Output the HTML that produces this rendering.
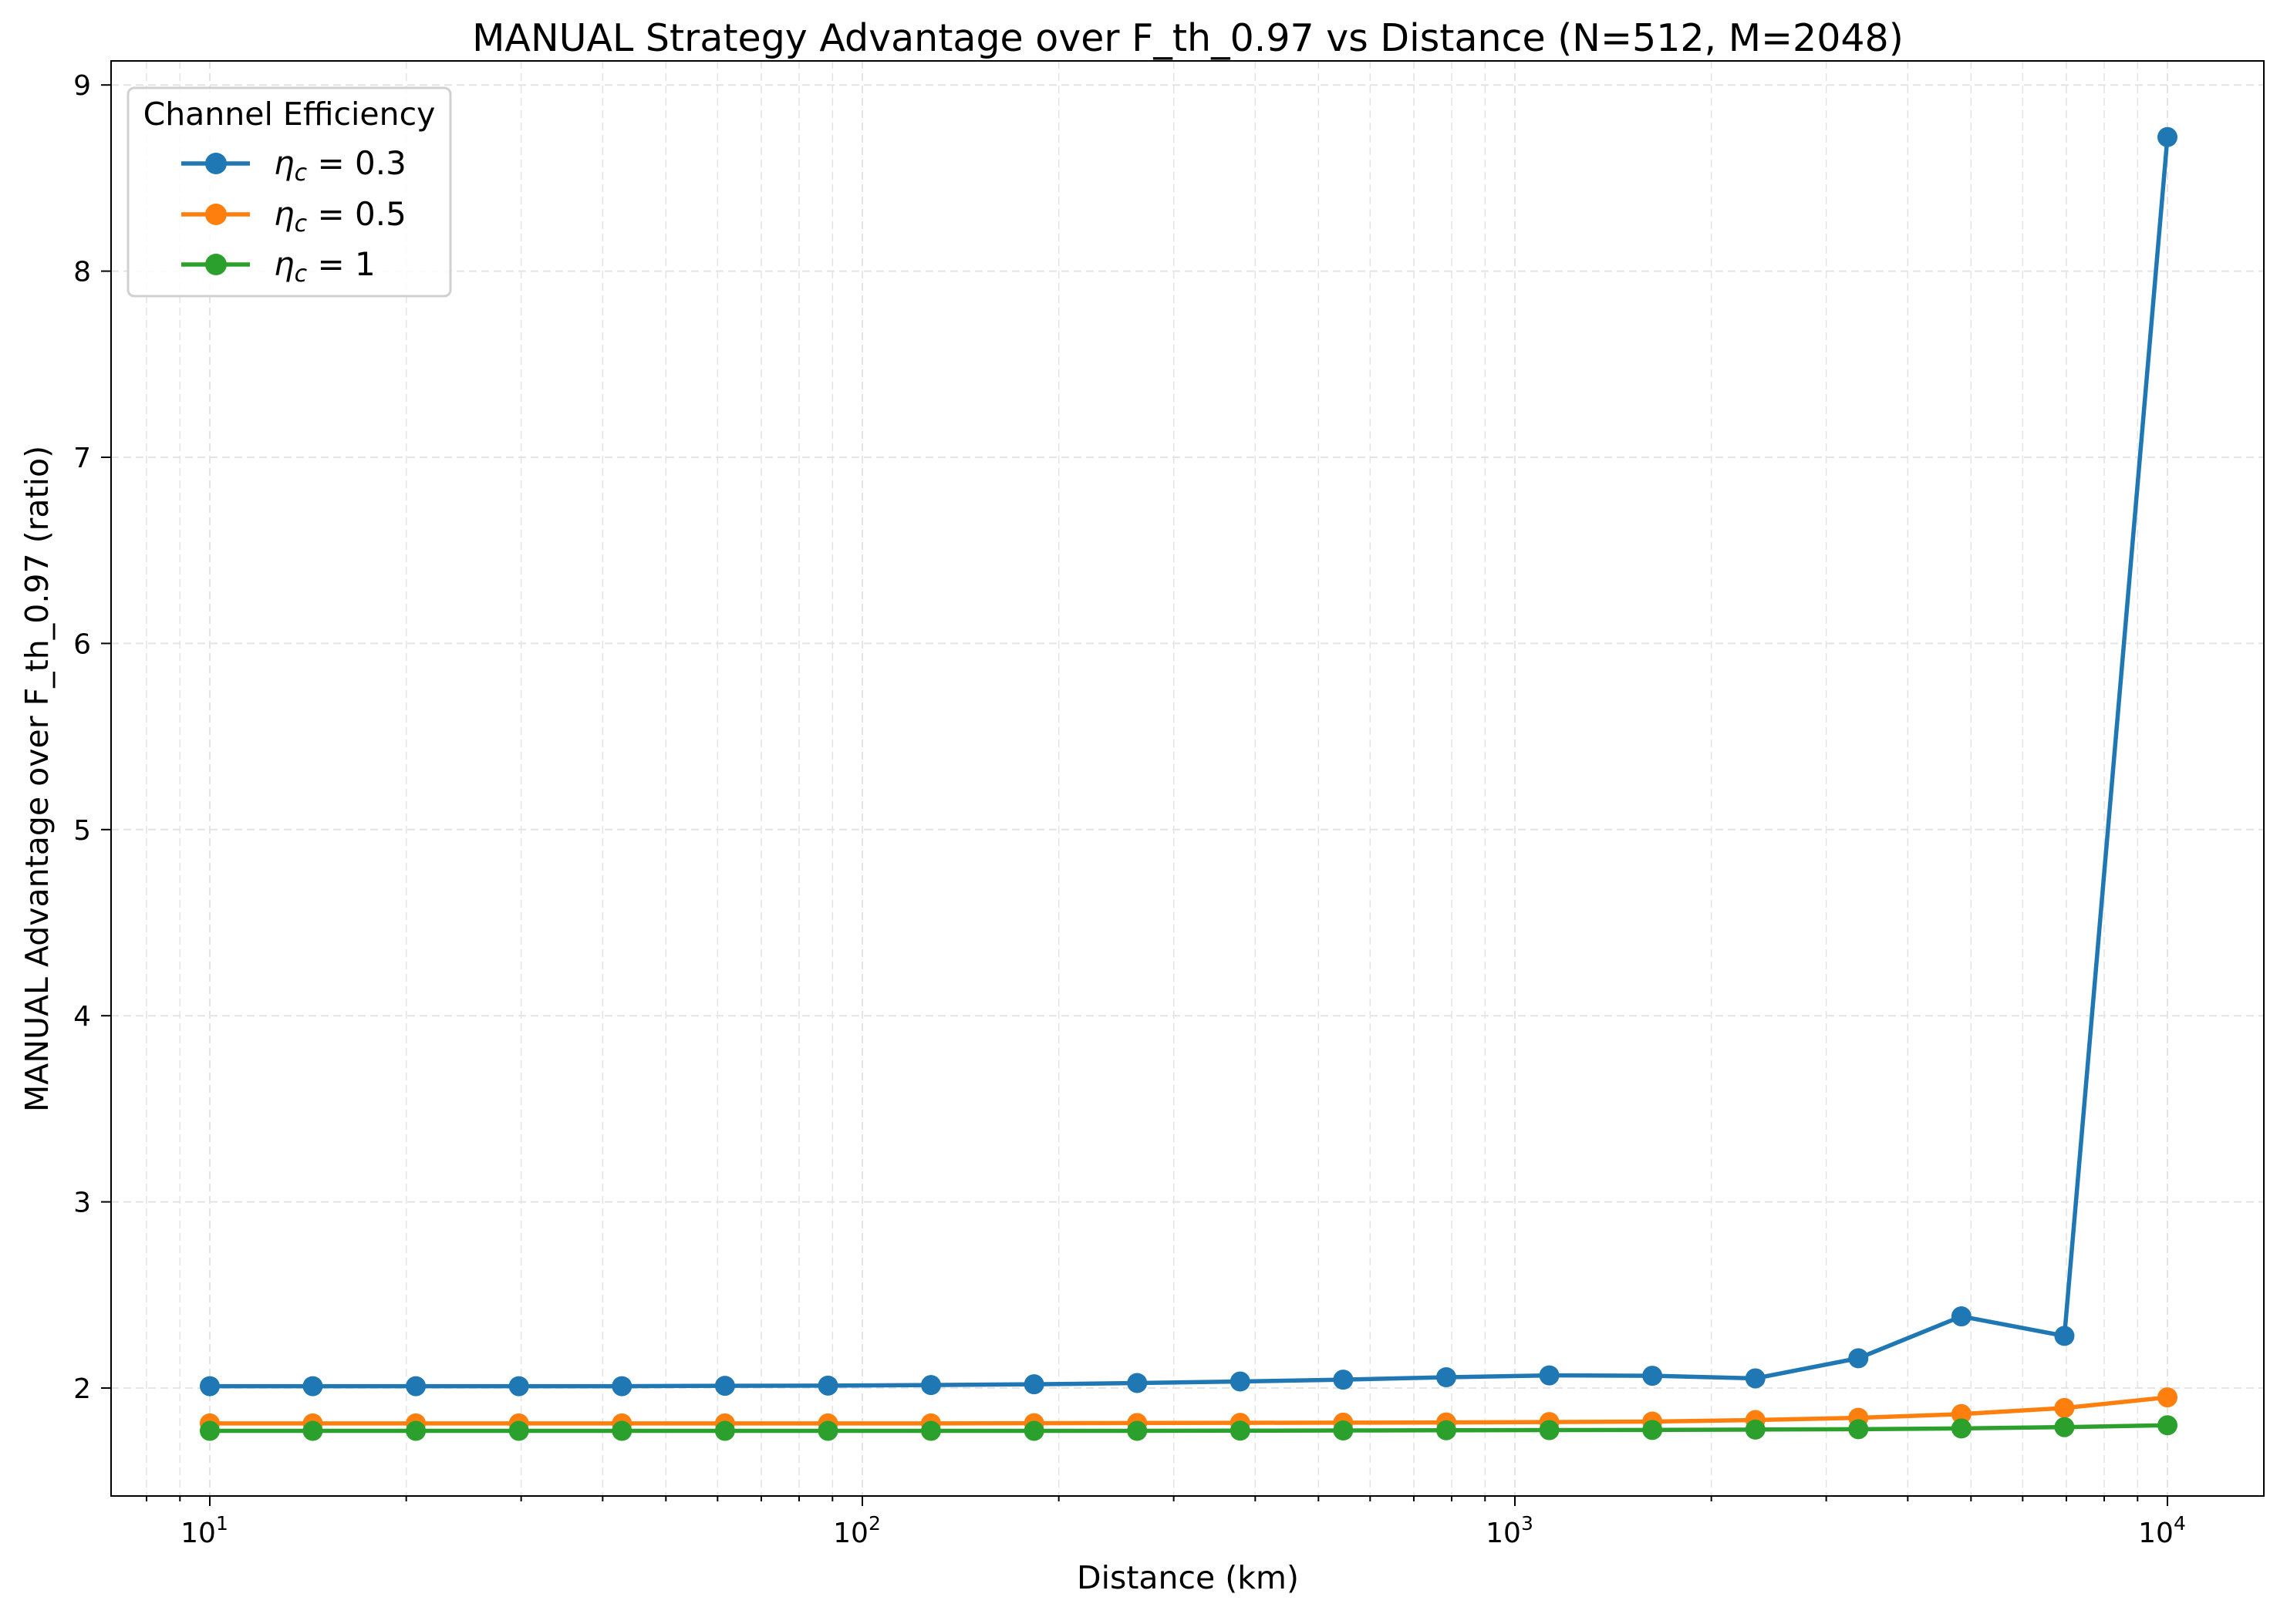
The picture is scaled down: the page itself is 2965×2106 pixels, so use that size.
<!DOCTYPE html>
<html><head><meta charset="utf-8"><style>
body{margin:0;background:#fff}
svg text{font-family:"DejaVu Sans","Liberation Sans",sans-serif;fill:#000}
</style></head><body>
<svg id="chart" width="2965" height="2101" viewBox="0 0 2965 2101" xmlns="http://www.w3.org/2000/svg">
<rect width="2965" height="2101" fill="#fff"/>
<g id="grid"></g>
<g id="series"></g>
<rect x="144" y="79" width="2791" height="1861" fill="none" stroke="#000" stroke-width="2"/>
<g id="axes"></g>
<text x="1540" y="66" font-size="49" text-anchor="middle">MANUAL Strategy Advantage over F_th_0.97 vs Distance (N=512, M=2048)</text>
<text x="1540" y="2060" font-size="41" text-anchor="middle">Distance (km)</text>
<text transform="translate(62,1010) rotate(-90)" font-size="41" text-anchor="middle">MANUAL Advantage over F_th_0.97 (ratio)</text>
<g>
<rect x="166" y="114" width="418" height="270" rx="8" fill="#fff" fill-opacity="0.85" stroke="#d0d0d0" stroke-width="3"/>
<text x="375" y="162" font-size="41" text-anchor="middle">Channel Efficiency</text>
<g><line x1="235" y1="212" x2="324" y2="212" stroke="#1f77b4" stroke-width="5.5"/><circle cx="280" cy="212" r="14" fill="#1f77b4"/><text x="355" y="226" font-size="42"><tspan font-style="italic">η</tspan><tspan font-style="italic" font-size="30" dy="8">c</tspan><tspan dy="-8"> = 0.3</tspan></text></g>
<g><line x1="235" y1="278" x2="324" y2="278" stroke="#ff7f0e" stroke-width="5.5"/><circle cx="280" cy="278" r="14" fill="#ff7f0e"/><text x="355" y="292" font-size="42"><tspan font-style="italic">η</tspan><tspan font-style="italic" font-size="30" dy="8">c</tspan><tspan dy="-8"> = 0.5</tspan></text></g>
<g><line x1="235" y1="343" x2="324" y2="343" stroke="#2ca02c" stroke-width="5.5"/><circle cx="280" cy="343" r="14" fill="#2ca02c"/><text x="355" y="357" font-size="42"><tspan font-style="italic">η</tspan><tspan font-style="italic" font-size="30" dy="8">c</tspan><tspan dy="-8"> = 1</tspan></text></g>
</g>
</svg>
<script>
const distances=[10,14.38,20.69,29.76,42.81,61.58,88.59,127.4,183.3,263.7,379.3,545.6,784.8,1129,1624,2336,3360,4833,6952,10000];
const eta03=[2.01,2.01,2.01,2.01,2.01,2.012,2.013,2.016,2.02,2.027,2.035,2.045,2.058,2.068,2.066,2.052,2.16,2.385,2.28,8.72];
const eta05=[1.81,1.81,1.81,1.81,1.81,1.81,1.81,1.81,1.811,1.812,1.813,1.814,1.815,1.817,1.82,1.828,1.84,1.86,1.893,1.95];
const eta1=[1.77,1.77,1.77,1.77,1.77,1.77,1.77,1.77,1.77,1.77,1.771,1.772,1.773,1.774,1.775,1.777,1.779,1.783,1.79,1.80];
const yTicks=[2,3,4,5,6,7,8,9];
const xTickExps=[1,2,3,4];
const NS="http://www.w3.org/2000/svg";
function X(v){return 272+(Math.log10(v)-1)*846;}
function Y(v){return 1800-(v-2)*241.4;}
function mk(t,a,p){const e=document.createElementNS(NS,t);for(const k in a)e.setAttribute(k,a[k]);p.appendChild(e);return e;}
const grid=document.getElementById('grid'),axes=document.getElementById('axes'),ser=document.getElementById('series');
for(let d=0;d<=4;d++){for(let m=1;m<10;m++){
 const val=m*Math.pow(10,d);
 const x=X(val);
 if(x<144||x>2935)continue;
 const l=mk('line',{x1:x,x2:x,y1:79,y2:1940,stroke:'#e4e4e4','stroke-width':m===1?2:1.6,'stroke-dasharray':'10,6'},grid);
 
 mk('line',{x1:x,x2:x,y1:1940,y2:m===1?1953:1947,stroke:'#000','stroke-width':2},axes);
}}
xTickExps.forEach(e=>{const x=X(Math.pow(10,e));const t=mk('text',{x:x-7,y:2000,'font-size':36,'text-anchor':'middle'},axes);
 
 t.textContent='10';const s=mk('tspan',{'font-size':25,dy:-16},t);s.textContent=String(e);});
yTicks.forEach(v=>{const y=Y(v);
 const l=mk('line',{x1:144,x2:2935,y1:y,y2:y,stroke:'#e4e4e4','stroke-width':2,'stroke-dasharray':'10,6'},grid);
 
 mk('line',{x1:131,x2:144,y1:y,y2:y,stroke:'#000','stroke-width':2},axes);
 const t=mk('text',{x:118,y:y+13,'font-size':36,'text-anchor':'end'},axes);
 t.textContent=String(v);});
[[eta03,'#1f77b4','eta-0.3'],[eta05,'#ff7f0e','eta-0.5'],[eta1,'#2ca02c','eta-1']].forEach(([vals,c,n])=>{
 const g=mk('g',{},ser);
 const p=mk('polyline',{points:vals.map((v,i)=>X(distances[i])+','+Y(v)).join(' '),fill:'none',stroke:c,'stroke-width':5.5,'stroke-linejoin':'round'},g);
 
 vals.forEach((v,i)=>{const cc=mk('circle',{cx:X(distances[i]),cy:Y(v),r:13,fill:c},g);
  });
});
</script>
</body></html>
